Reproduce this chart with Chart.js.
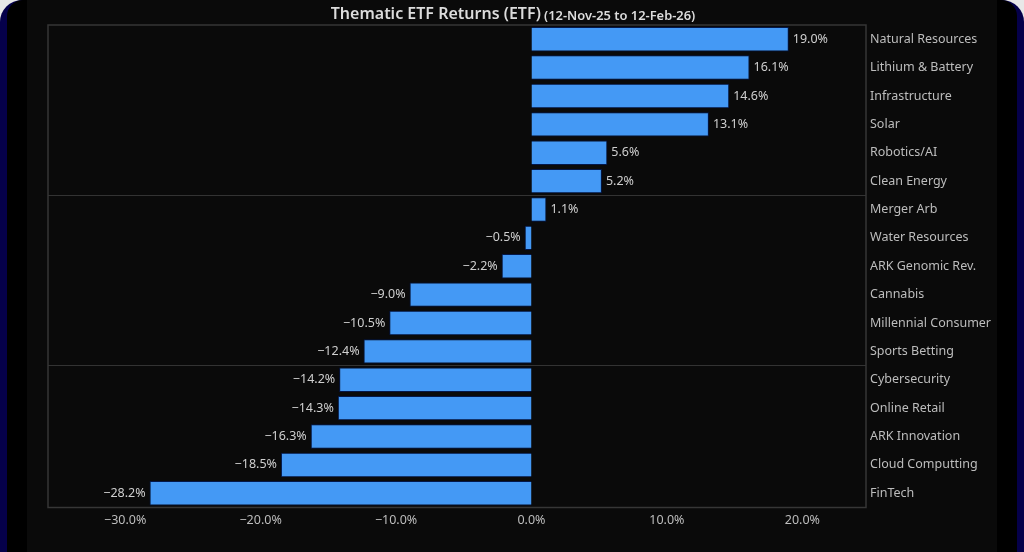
<!DOCTYPE html>
<html><head><meta charset="utf-8">
<style>
html,body{margin:0;padding:0;width:1024px;height:552px;overflow:hidden;background:#e8e8e8}
#navy{position:absolute;left:0;top:0;width:1024px;height:552px;background:#05004a;border-radius:22px 22px 0 0}
#frame{position:absolute;left:7px;top:0;width:1010px;height:552px;background:#000;border-radius:16px 16px 0 0}
#inner{position:absolute;left:27px;top:0;width:970px;height:552px;background:#0a0a0a}
#wrap{position:absolute;left:0;top:0;width:1024px;height:552px;filter:blur(0.45px)}
</style></head><body>
<div id="navy"></div><div id="frame"></div><div id="inner"></div>
<div id="wrap"><canvas id="c" width="1024" height="552"></canvas></div>
<script src="https://cdn.jsdelivr.net/npm/chart.js@4/dist/chart.umd.min.js"></script>
<script>
const categories=["Natural Resources","Lithium & Battery","Infrastructure","Solar","Robotics/AI","Clean Energy","Merger Arb","Water Resources","ARK Genomic Rev.","Cannabis","Millennial Consumer","Sports Betting","Cybersecurity","Online Retail","ARK Innovation","Cloud Computting","FinTech"];
const returns=[19.0,16.1,14.6,13.1,5.6,5.2,1.1,-0.5,-2.2,-9.0,-10.5,-12.4,-14.2,-14.3,-16.3,-18.5,-28.2];
const titleMain="Thematic ETF Returns (ETF)";
const titleSub="(12-Nov-25 to 12-Feb-26)";
const separators=[6,12];
const FONT='"Noto Sans"';
const fmt=v=>(v<0?"\u2212":"")+Math.abs(v).toFixed(1)+"%";
const overlay={id:"overlay",
 beforeDatasetsDraw(ch){
  const c=ch.ctx,a=ch.chartArea;
  c.save();c.strokeStyle="#363636";c.lineWidth=1.5;
  c.strokeRect(a.left,a.top,a.right-a.left,a.bottom-a.top);c.restore();
 },
 afterDatasetsDraw(ch){
  const c=ch.ctx;const bars=ch.getDatasetMeta(0).data;
  c.save();c.textBaseline="middle";c.fillStyle="#cfcfcf";c.font="12.5px "+FONT;
  bars.forEach((b,i)=>{const v=returns[i];
    c.textAlign=v<0?"right":"left";
    c.fillText(fmt(v),b.x+(v<0?-4:4),b.y);});
  c.fillStyle="#dcdcdc";c.textAlign="left";
  c.font="600 16px "+FONT;const w1=c.measureText(titleMain).width;
  c.font="600 12.9px "+FONT;const w2=c.measureText(titleSub).width;
  const x0=513-(w1+3+w2)/2;
  c.font="600 16px "+FONT;c.fillText(titleMain,x0,14.5);
  c.font="600 12.9px "+FONT;c.fillText(titleSub,x0+w1+3,16);
  c.restore();
}};
new Chart(document.getElementById("c"),{type:"bar",plugins:[overlay],
 data:{labels:categories,datasets:[{data:returns,backgroundColor:"#4499f5",borderColor:"#03174a",borderWidth:1,borderSkipped:"start",barPercentage:0.86,categoryPercentage:1}]},
 options:{indexAxis:"y",responsive:false,animation:false,
  layout:{padding:{top:25,left:48,right:0,bottom:0}},
  plugins:{legend:{display:false},tooltip:{enabled:false},title:{display:false}},
  scales:{
   x:{min:-35.7,max:24.7,afterBuildTicks(s){s.ticks=[-30,-20,-10,0,10,20].map(v=>({value:v}));},
      grid:{display:false,drawTicks:false},border:{display:false},
      afterFit(s){s.height=44.5;},
      ticks:{color:"#bdbdbd",font:{family:FONT,size:12.5},padding:5,maxRotation:0,callback:v=>fmt(v)}},
   y:{position:"right",grid:{offset:true,drawTicks:false,color:c=>separators.includes(c.index)?"#333333":"rgba(0,0,0,0)",lineWidth:1},
      border:{display:false},afterFit(s){s.width=158;},
      ticks:{color:"#bdbdbd",font:{family:FONT,size:12.5},padding:4,autoSkip:false}}
  }}});
</script></body></html>
